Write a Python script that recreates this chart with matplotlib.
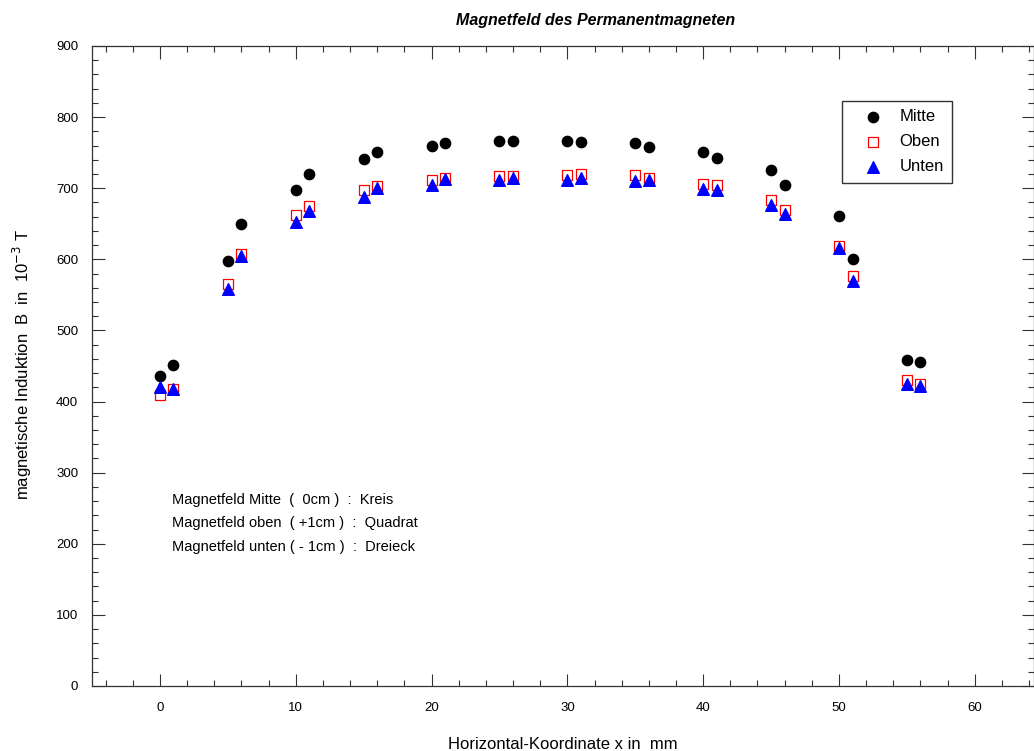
import matplotlib
matplotlib.use('Agg')
import matplotlib.pyplot as plt
from matplotlib.ticker import MultipleLocator

plt.rcParams['font.family'] = ['Liberation Sans', 'DejaVu Sans']

# Messpunkte (x in mm)
x_pos = [0, 1, 5, 6, 10, 11, 15, 16, 20, 21, 25, 26, 30, 31, 35, 36, 40, 41, 45, 46, 50, 51, 55, 56]

# B in 10^-3 T
b_mitte = [436, 452, 598, 650, 697, 720, 741, 751, 760, 764, 766, 766,
           767, 765, 764, 758, 751, 743, 726, 705, 661, 601, 458, 455]
b_oben = [409, 417, 565, 608, 662, 675, 697, 703, 712, 714, 717, 717,
          719, 720, 718, 714, 706, 704, 684, 669, 619, 577, 430, 425]
b_unten = [421, 417, 558, 604, 653, 668, 688, 701, 705, 713, 712, 715,
           712, 715, 710, 711, 699, 697, 676, 664, 616, 569, 425, 422]

fig = plt.figure(figsize=(10.34, 7.51), dpi=100)
W, H = 1034, 751
# axes: x from pixel 92 to 1034, y from 46 to 686
ax = fig.add_axes([92 / W, (H - 686) / H, (1034 - 92) / W, (686 - 46) / H])

ax.scatter(x_pos, b_mitte, marker='o', s=55, color='black', label='Mitte', zorder=3)
ax.scatter(x_pos, b_oben, marker='s', s=50, facecolor='white', edgecolor='red',
           linewidth=0.9, label='Oben', zorder=3)
ax.scatter(x_pos, b_unten, marker='^', s=70, color='blue', label='Unten', zorder=4)

ax.set_xlim(-5, 64.36)
ax.set_ylim(0, 900)
ax.xaxis.set_major_locator(MultipleLocator(10))
ax.xaxis.set_minor_locator(MultipleLocator(2))
ax.yaxis.set_major_locator(MultipleLocator(100))
ax.yaxis.set_minor_locator(MultipleLocator(20))
ax.tick_params(which='both', direction='in', top=True, right=True, width=0.8,
               color='#333333', labelsize=9.5)
ax.tick_params(which='major', length=9)
ax.tick_params(which='minor', length=4.5)
ax.tick_params(axis='x', which='major', pad=11.5)
ax.tick_params(axis='y', which='major', pad=10)
for sp in ax.spines.values():
    sp.set_linewidth(0.9)
    sp.set_color('#333333')

ax.set_xlabel('Horizontal-Koordinate x in  mm', fontsize=12, labelpad=16.5)
fig.text(22 / W, 1 - 365 / H, 'magnetische Induktion  B  in  10$^{-3}$ T',
         rotation=90, ha='center', va='center', fontsize=12)
fig.text(596 / W, 1 - 20 / H, 'Magnetfeld des Permanentmagneten',
         ha='center', va='center', fontsize=11.5, fontweight='bold', style='italic')

notes = ['Magnetfeld Mitte  (  0cm )  :  Kreis',
         'Magnetfeld oben  ( +1cm )  :  Quadrat',
         'Magnetfeld unten ( - 1cm )  :  Dreieck']
for i, t in enumerate(notes):
    fig.text(172 / W, 1 - (500 + i * 23.5) / H, t, ha='left', va='center', fontsize=10.5)

leg = ax.legend(loc='upper left', bbox_to_anchor=((842 - 92) / 942, (686 - 101) / 640),
                fontsize=12, frameon=True, fancybox=False, edgecolor='black',
                handletextpad=0.25, borderpad=0.5, labelspacing=0.6, handlelength=2.7,
                borderaxespad=0)
leg.get_frame().set_linewidth(1.0)

fig.savefig('out.png', dpi=100)
